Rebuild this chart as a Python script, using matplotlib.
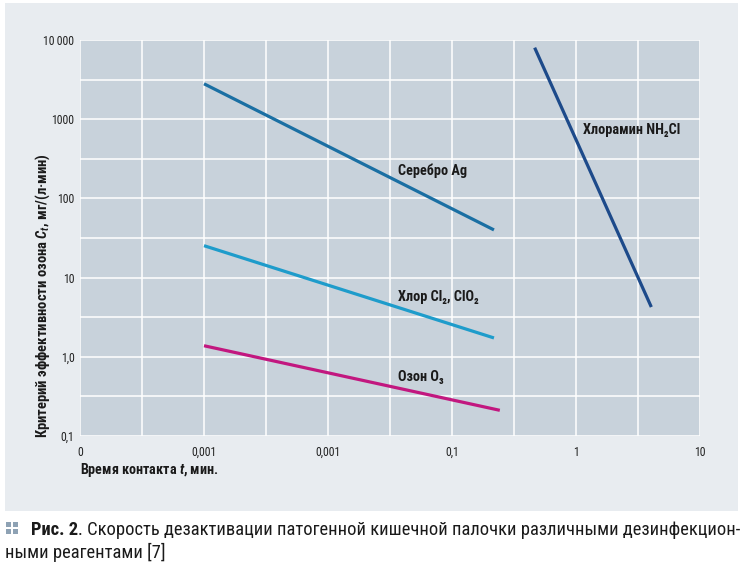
import matplotlib
matplotlib.use("Agg")
import matplotlib.pyplot as plt
from matplotlib.patches import Rectangle
from matplotlib.ticker import FixedLocator, NullFormatter

# contact time, min (log scale)
silver_t = [0.001, 0.218]
silver_ct = [2800, 40]
chlorine_t = [0.001, 0.218]
chlorine_ct = [25.3, 1.73]
ozone_t = [0.001, 0.243]
ozone_ct = [1.38, 0.211]
chloramine_t = [0.464, 4.05]
chloramine_ct = [8000, 4.25]

x_ticks = [1e-4, 1e-3, 1e-2, 1e-1, 1, 10]
x_labels = ["0", "0,001", "0,001", "0,1", "1", "10"]
y_ticks = [0.1, 1, 10, 100, 1000, 10000]
y_labels = ["0,1", "1,0", "10", "100", "1000", "10\u2009000"]

NARROW = ["Roboto Condensed", "DejaVu Sans"]
PANEL = "#e8ecf0"
PLOT_BG = "#c8d2db"

plt.rcParams["mathtext.fontset"] = "custom"
plt.rcParams["mathtext.it"] = "Roboto Condensed:italic:bold"
plt.rcParams["mathtext.rm"] = "Roboto Condensed:bold"

fig = plt.figure(figsize=(7.46, 5.66), dpi=100)
fig.patch.set_facecolor("white")
fig.add_artist(Rectangle((5 / 746, 1 - 511 / 566), 733 / 746, 508 / 566,
                         transform=fig.transFigure, facecolor=PANEL,
                         edgecolor="none", zorder=0))

ax = fig.add_axes([80 / 746, 130 / 566, 620 / 746, 396 / 566])
ax.set_facecolor(PLOT_BG)
ax.set_xscale("log")
ax.set_yscale("log")
ax.set_xlim(1e-4, 10)
ax.set_ylim(0.1, 10000)

ax.xaxis.set_major_locator(FixedLocator(x_ticks))
ax.set_xticklabels(x_labels)
ax.yaxis.set_major_locator(FixedLocator(y_ticks))
ax.set_yticklabels(y_labels)
ax.xaxis.set_minor_locator(FixedLocator([10 ** (e + 0.5) for e in range(-4, 1)]))
ax.yaxis.set_minor_locator(FixedLocator([10 ** (e + 0.5) for e in range(-1, 4)]))
ax.xaxis.set_minor_formatter(NullFormatter())
ax.yaxis.set_minor_formatter(NullFormatter())
ax.grid(True, which="both", color="white", linewidth=1.1)
ax.set_axisbelow(True)
ax.tick_params(which="both", length=0)
ax.tick_params(axis="x", pad=7)
ax.tick_params(axis="y", pad=4)
for lbl in ax.get_xticklabels() + ax.get_yticklabels():
    lbl.set_family(NARROW)
    lbl.set_fontsize(8.5)
    lbl.set_color("#222222")
for s in ax.spines.values():
    s.set_visible(False)

ax.plot(silver_t, silver_ct, color="#1a6fa3", lw=2.3, solid_capstyle="butt")
ax.plot(chlorine_t, chlorine_ct, color="#1e9ccb", lw=2.3, solid_capstyle="butt")
ax.plot(ozone_t, ozone_ct, color="#c2177f", lw=2.3, solid_capstyle="butt")
ax.plot(chloramine_t, chloramine_ct, color="#1d4a8a", lw=2.3, solid_capstyle="butt")

lab = dict(fontsize=10.3, fontweight="bold", family=NARROW, color="#1a1a1a",
           va="center", ha="left")
ax.text(0.0367, 222, "Серебро Ag", **lab)
ax.text(0.0367, 5.69, "Хлор Cl₂, ClO₂", **lab)
ax.text(0.0367, 0.556, "Озон O₃", **lab)
ax.text(1.14, 731, "Хлорамин NH₂Cl", **lab)

fig.text(43 / 746, 1 - 438 / 566, "Критерий эффективности озона $C_t$, мг/(л·мин)",
         rotation=90, ha="center", va="bottom", fontsize=10.5,
         fontweight="bold", family=NARROW, color="#1a1a1a")
fig.text(80 / 746, 1 - 470 / 566, "Время контакта $t$, мин.", ha="left",
         va="center", fontsize=10.2, fontweight="bold", family=NARROW,
         color="#1a1a1a")

# caption
for dx in (0, 1):
    for dy in (0, 1):
        fig.add_artist(Rectangle(((6 + dx * 7) / 746, 1 - (527 + dy * 7) / 566),
                                 5 / 746, 5 / 566, transform=fig.transFigure,
                                 facecolor="#8ea2b4", edgecolor="none"))
cap = dict(fontsize=13.3, family=["Roboto Condensed", "Roboto", "DejaVu Sans"],
           color="#1a1a1a", va="center")
t1 = fig.text(31 / 746, 1 - 530 / 566, "Рис. 2", fontweight="bold", **cap)
fig.canvas.draw()
bb = t1.get_window_extent()
fig.text(bb.x1 / 746, 1 - 530 / 566,
         ". Скорость дезактивации патогенной кишечной палочки различными дезинфекцион-",
         **cap)
fig.text(5 / 746, 1 - 552 / 566, "ными реагентами [7]", **cap)

fig.savefig("out.png", dpi=100)
